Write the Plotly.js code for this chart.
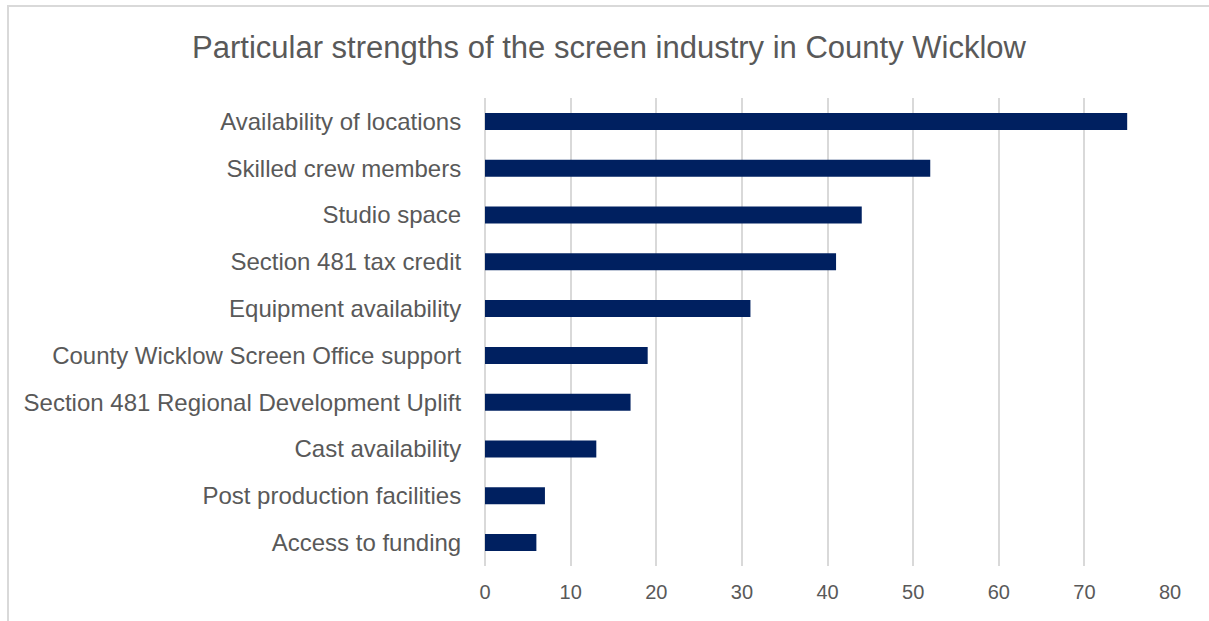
<!DOCTYPE html>
<html>
<head>
<meta charset="utf-8">
<script src="https://cdn.plot.ly/plotly-3.0.1.min.js"></script>
<style>
  html, body { margin: 0; padding: 0; background: #fff; overflow: hidden; }
  #frame {
    position: absolute; left: 7px; top: 5px; width: 1202px; height: 616px;
    border-top: 2px solid #d9d9d9; border-left: 2px solid #d9d9d9;
    overflow: hidden;
  }
  #chart { width: 1200px; height: 614px; }
</style>
</head>
<body>
<div id="frame"><div id="chart"></div></div>
<script>
const strengths = [
  'Availability of locations',
  'Skilled crew members',
  'Studio space',
  'Section 481 tax credit',
  'Equipment availability',
  'County Wicklow Screen Office support',
  'Section 481 Regional Development Uplift',
  'Cast availability',
  'Post production facilities',
  'Access to funding',
];
const counts = [75, 52, 44, 41, 31, 19, 17, 13, 7, 6];
const xTicks = [0, 10, 20, 30, 40, 50, 60, 70, 80];

const textColor = '#595959';
const gridColor = '#d9d9d9';
const font = 'Liberation Sans, Arial, sans-serif';

const trace = {
  x: counts,
  y: strengths,
  type: 'bar',
  orientation: 'h',
  marker: { color: '#002060' },
  hoverinfo: 'x+y',
};

const layout = {
  width: 1200,
  height: 614,
  title: {
    text: 'Particular strengths of the screen industry in County Wicklow',
    font: { family: font, size: 31, color: textColor },
    xref: 'container', x: 0.5, xanchor: 'center',
    yref: 'container', y: 0.935, yanchor: 'middle',
  },
  xaxis: {
    range: [0, 80],
    tickvals: xTicks,
    showgrid: true,
    gridcolor: gridColor,
    gridwidth: 2,
    zeroline: true,
    zerolinecolor: gridColor,
    zerolinewidth: 2,
    showline: false,
    ticks: 'outside',
    ticklen: 8,
    tickcolor: 'rgba(0,0,0,0)',
    tickfont: { family: font, size: 20, color: textColor },
    fixedrange: true,
  },
  yaxis: {
    categoryorder: 'array',
    categoryarray: strengths,
    autorange: 'reversed',
    showgrid: false,
    zeroline: false,
    showline: false,
    ticks: 'outside',
    ticklen: 18,
    tickcolor: 'rgba(0,0,0,0)',
    tickfont: { family: font, size: 24, color: textColor },
    fixedrange: true,
  },
  bargap: 0.636,
  margin: { l: 476, r: 39, t: 91, b: 55 },
  plot_bgcolor: '#fff',
  paper_bgcolor: '#fff',
  showlegend: false,
};

Plotly.newPlot('chart', [trace], layout, { displayModeBar: false, staticPlot: true });
</script>
</body>
</html>
